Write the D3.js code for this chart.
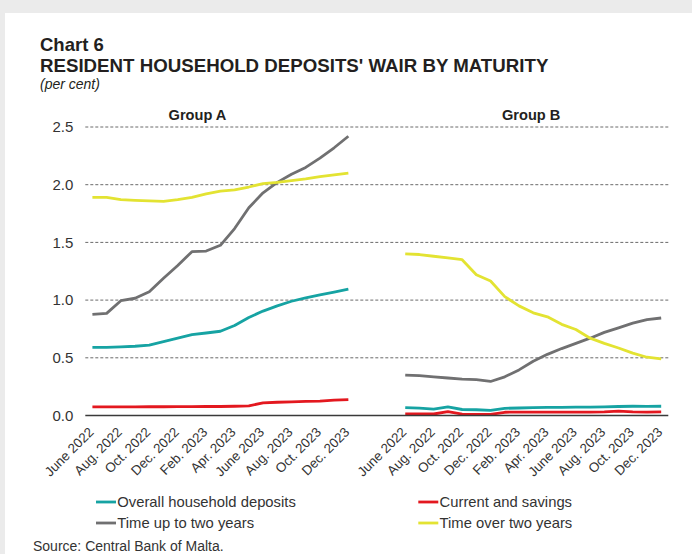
<!DOCTYPE html>
<html>
<head>
<meta charset="utf-8">
<script src="https://cdn.jsdelivr.net/npm/d3@7"></script>
<style>
  body { margin: 0; background: #ebebeb; }
  svg { display: block; font-family: "Liberation Sans", Arial, sans-serif; }
</style>
</head>
<body>
<div id="chart"></div>
<script>
// months shown in each group (monthly data, June 2022 - Dec. 2023)
const months = ["June 2022", "July 2022", "Aug. 2022", "Sep. 2022", "Oct. 2022", "Nov. 2022",
  "Dec. 2022", "Jan. 2023", "Feb. 2023", "Mar. 2023", "Apr. 2023", "May 2023", "June 2023",
  "July 2023", "Aug. 2023", "Sep. 2023", "Oct. 2023", "Nov. 2023", "Dec. 2023"];
const groups = ["Group A", "Group B"];
const yTicks = [0, 0.5, 1.0, 1.5, 2.0, 2.5];

// Group A
const overallA = [0.59, 0.59, 0.595, 0.60, 0.61, 0.64, 0.67, 0.70, 0.715, 0.73, 0.78, 0.85, 0.905, 0.95, 0.99, 1.02, 1.045, 1.07, 1.095];
const currentA = [0.075, 0.075, 0.075, 0.075, 0.076, 0.076, 0.077, 0.077, 0.078, 0.078, 0.08, 0.083, 0.11, 0.115, 0.118, 0.122, 0.125, 0.133, 0.138];
const upToTwoA = [0.877, 0.885, 0.995, 1.016, 1.073, 1.19, 1.30, 1.42, 1.425, 1.475, 1.62, 1.80, 1.93, 2.02, 2.09, 2.15, 2.23, 2.32, 2.42];
const overTwoA = [1.89, 1.89, 1.87, 1.865, 1.86, 1.855, 1.87, 1.89, 1.92, 1.945, 1.955, 1.98, 2.01, 2.02, 2.035, 2.05, 2.07, 2.085, 2.10];

// Group B
const overallB = [0.068, 0.064, 0.056, 0.075, 0.052, 0.05, 0.045, 0.062, 0.065, 0.068, 0.07, 0.071, 0.072, 0.073, 0.075, 0.078, 0.08, 0.079, 0.08];
const currentB = [0.013, 0.013, 0.013, 0.033, 0.012, 0.01, 0.01, 0.028, 0.03, 0.03, 0.03, 0.03, 0.03, 0.03, 0.032, 0.038, 0.032, 0.03, 0.032];
const upToTwoB = [0.35, 0.345, 0.335, 0.325, 0.315, 0.31, 0.295, 0.335, 0.395, 0.47, 0.53, 0.58, 0.625, 0.67, 0.72, 0.76, 0.80, 0.83, 0.845];
const overTwoB = [1.40, 1.395, 1.38, 1.365, 1.35, 1.22, 1.165, 1.03, 0.95, 0.89, 0.855, 0.79, 0.745, 0.67, 0.625, 0.585, 0.54, 0.505, 0.49];

const series = [
  { name: "Overall household deposits", color: "#16a3a3", a: overallA, b: overallB },
  { name: "Current and savings", color: "#e3181f", a: currentA, b: currentB },
  { name: "Time up to two years", color: "#707071", a: upToTwoA, b: upToTwoB },
  { name: "Time over two years", color: "#e3e332", a: overTwoA, b: overTwoB }
];

const width = 692, height = 554;
const svg = d3.select("#chart").append("svg")
  .attr("width", width)
  .attr("height", height);

svg.append("rect")
  .attr("x", 5).attr("y", 13)
  .attr("width", width - 5).attr("height", height - 13)
  .attr("fill", "#fff");

// titles
svg.append("text").attr("x", 40).attr("y", 51)
  .attr("font-size", 18.5).attr("font-weight", "bold").attr("fill", "#231f20")
  .text("Chart 6");
svg.append("text").attr("x", 40).attr("y", 72)
  .attr("font-size", 18.7).attr("font-weight", "bold").attr("fill", "#231f20")
  .text("RESIDENT HOUSEHOLD DEPOSITS' WAIR BY MATURITY");
svg.append("text").attr("x", 40).attr("y", 89)
  .attr("font-size", 14).attr("font-style", "italic").attr("fill", "#231f20")
  .text("(per cent)");

// one band per month, with a gap of three empty bands between groups
const keysA = months.map(m => "A|" + m);
const keysB = months.map(m => "B|" + m);
const gap = ["gap1", "gap2", "gap3"];
const x = d3.scaleBand()
  .domain([...keysA, ...gap, ...keysB])
  .range([85.3, 668.3]);
const cx = k => x(k) + x.bandwidth() / 2;

const y = d3.scaleLinear()
  .domain([0, 2.5])
  .range([415.5, 127]);

// dashed gridlines
svg.append("g")
  .selectAll("line")
  .data(yTicks.filter(d => d > 0))
  .join("line")
  .attr("x1", 85.3).attr("x2", 668.3)
  .attr("y1", d => y(d)).attr("y2", d => y(d))
  .attr("stroke", "#6a6a6a")
  .attr("stroke-width", 1)
  .attr("stroke-dasharray", "3,2");

// y axis labels
const yAxis = d3.axisLeft(y).tickValues(yTicks).tickFormat(d3.format(".1f")).tickSize(0).tickPadding(12);
svg.append("g")
  .attr("transform", "translate(85.3,0)")
  .call(yAxis)
  .call(g => g.select(".domain").remove())
  .selectAll("text")
  .attr("font-size", 15)
  .attr("font-family", "Liberation Sans, Arial, sans-serif")
  .attr("fill", "#333");

// group headers
svg.append("g")
  .selectAll("text")
  .data(groups)
  .join("text")
  .attr("x", (d, i) => i === 0 ? 197.5 : 531.2)
  .attr("y", 120)
  .attr("text-anchor", "middle")
  .attr("font-size", 14.6)
  .attr("font-weight", "bold")
  .attr("fill", "#231f20")
  .text(d => d);

// lines
const line = d3.line()
  .x(d => cx(d.k))
  .y(d => y(d.v));

series.forEach(s => {
  [[keysA, s.a], [keysB, s.b]].forEach(([keys, vals]) => {
    svg.append("path")
      .datum(vals.map((v, i) => ({ k: keys[i], v: v })))
      .attr("d", line)
      .attr("fill", "none")
      .attr("stroke", s.color)
      .attr("stroke-width", 2.8)
      .attr("stroke-linejoin", "round");
  });
});

// x axis baseline
svg.append("line")
  .attr("x1", 85.3).attr("x2", 668.3)
  .attr("y1", y(0)).attr("y2", y(0))
  .attr("stroke", "#3a3a3a")
  .attr("stroke-width", 1.5);

// x labels every second month, rotated
const labelKeys = [...keysA, ...keysB].filter((k, i) => (i % 19) % 2 === 0);
svg.append("g")
  .selectAll("text")
  .data(labelKeys)
  .join("text")
  .attr("transform", d => `translate(${cx(d) + 2},${433}) rotate(-45)`)
  .attr("text-anchor", "end")
  .attr("font-size", 13.4)
  .attr("fill", "#333")
  .text(d => d.split("|")[1]);

// legend
const legend = svg.append("g")
  .selectAll("g")
  .data(series)
  .join("g")
  .attr("transform", (d, i) => `translate(${i % 2 === 0 ? 96 : 418.3},${i < 2 ? 502 : 523})`);
legend.append("line")
  .attr("x1", 0).attr("x2", 20)
  .attr("stroke", d => d.color)
  .attr("stroke-width", 2.8);
legend.append("text")
  .attr("x", 21.3).attr("y", 5.3)
  .attr("font-size", 14.8)
  .attr("fill", "#333")
  .text(d => d.name);

svg.append("text")
  .attr("x", 33).attr("y", 551)
  .attr("font-size", 14)
  .attr("fill", "#333")
  .text("Source: Central Bank of Malta.");
</script>
</body>
</html>
